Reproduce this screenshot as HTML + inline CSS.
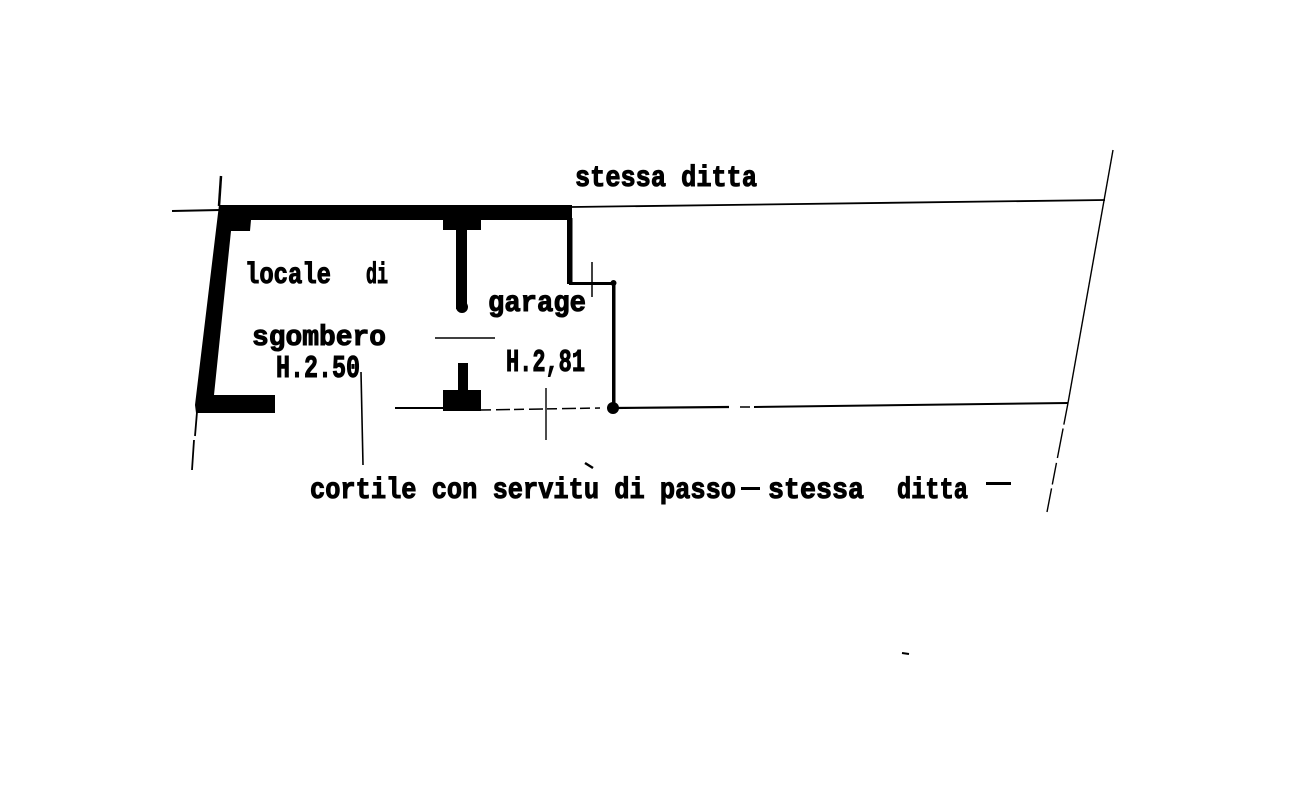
<!DOCTYPE html>
<html>
<head>
<meta charset="utf-8">
<style>
html,body{margin:0;padding:0;background:#fff;width:1306px;height:801px;overflow:hidden}
svg{display:block}
text{font-family:"Liberation Mono","DejaVu Sans Mono",monospace;font-weight:bold;fill:#000;stroke:#000;stroke-width:.9;white-space:pre}
</style>
</head>
<body>
<svg width="1306" height="801" viewBox="0 0 1306 801" xmlns="http://www.w3.org/2000/svg">
<rect width="1306" height="801" fill="#fff"/>
<!-- boundary lines -->
<g stroke="#000" fill="none">
<path d="M172 211L220 210" stroke-width="2"/>
<path d="M572 207L1105 200" stroke-width="1.8"/>
<path d="M221 176L219 206" stroke-width="2.5"/>
<path d="M197 412L195 436M194 440L192 470" stroke-width="1.8"/>
<path d="M1113 150L1068 403" stroke-width="1.4"/>
<path d="M1068 403L1047 512" stroke-width="1.4" stroke-dasharray="22 4 30 5"/>
<path d="M395 408L445 408" stroke-width="2"/>
<path d="M481 410L600 408" stroke-width="1.5" stroke-dasharray="10 5 14 4"/>
<path d="M613 408L729 407" stroke-width="2.2"/>
<path d="M740 407L750 407" stroke-width="1.5"/>
<path d="M754 407L1068 403" stroke-width="2"/>
<path d="M361 372L363 465" stroke-width="1.6"/>
<path d="M546 388L546 440" stroke-width="1.4"/>
<path d="M435 338L495 338" stroke-width="1.6"/>
<path d="M592 262L592 297" stroke-width="1.5"/>
<path d="M585 463L593 468" stroke-width="2.5"/>
<path d="M902 653L909 654" stroke-width="2"/>
</g>
<!-- walls -->
<g fill="#000">
<polygon points="219,205 572,205 572,220 251,220 250,231 231,231 214,395 275,395 275,413 196,413 195,405"/>
<rect x="443" y="218" width="38" height="12"/>
<rect x="456" y="225" width="11" height="84"/>
<circle cx="462" cy="307" r="6"/>
<rect x="458" y="363" width="10" height="30"/>
<rect x="443" y="390" width="38" height="21"/>
<rect x="567" y="218" width="5.5" height="66"/>
<rect x="569" y="282" width="45" height="3"/>
<rect x="612" y="282" width="3.5" height="126"/>
<circle cx="613.500" cy="283" r="3"/>
<circle cx="613" cy="408" r="6"/>
</g>
<!-- labels -->
<text transform="translate(575,186) scale(1,1.2)" font-size="25" textLength="182" lengthAdjust="spacingAndGlyphs">stessa ditta</text>
<text transform="translate(245,283) scale(1,1.15)" font-size="26" textLength="86" lengthAdjust="spacingAndGlyphs">locale</text>
<text transform="translate(366,283) scale(1,1.15)" font-size="26" textLength="22" lengthAdjust="spacingAndGlyphs" stroke-width="1.5">di</text>
<text transform="translate(252,345) scale(1,1.15)" font-size="25" textLength="134" lengthAdjust="spacingAndGlyphs">sgombero</text>
<text transform="translate(276,377) scale(1,1.15)" font-size="27" textLength="84" lengthAdjust="spacingAndGlyphs">H.2.50</text>
<text transform="translate(488,311) scale(1,1.2)" font-size="25" textLength="98" lengthAdjust="spacingAndGlyphs">garage</text>
<text transform="translate(506,371) scale(1,1.15)" font-size="27" textLength="79" lengthAdjust="spacingAndGlyphs">H.2,81</text>
<text transform="translate(310,498) scale(1,1.2)" font-size="25" textLength="426" lengthAdjust="spacingAndGlyphs">cortile con servitu di passo</text>
<text transform="translate(768,498) scale(1,1.2)" font-size="25" textLength="96" lengthAdjust="spacingAndGlyphs">stessa</text>
<text transform="translate(897,498) scale(1,1.2)" font-size="25" textLength="71" lengthAdjust="spacingAndGlyphs">ditta</text>
<rect x="741" y="487" width="19" height="3" fill="#000"/>
<rect x="986" y="482" width="25" height="3" fill="#000"/>
</svg>
</body>
</html>
